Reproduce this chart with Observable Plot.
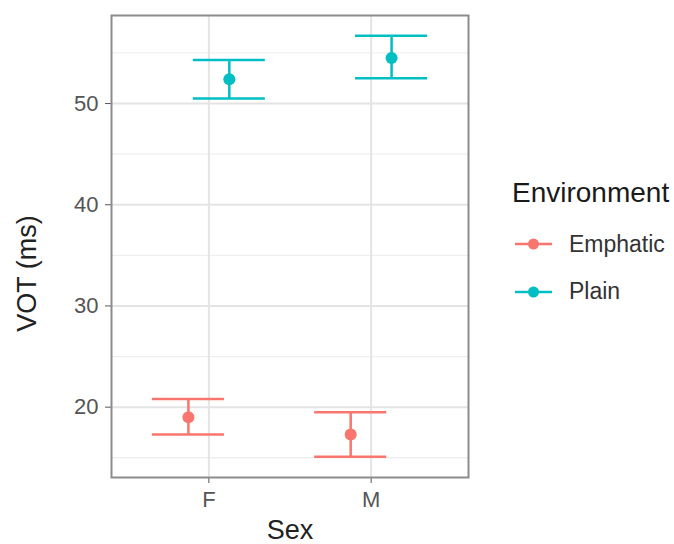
<!DOCTYPE html>
<html>
<head>
<meta charset="utf-8">
<script src="https://cdn.jsdelivr.net/npm/d3@7"></script>
<script src="https://cdn.jsdelivr.net/npm/@observablehq/plot@0.6"></script>
<style>
  html, body { margin: 0; padding: 0; background: #fff; }
  #wrap { position: relative; width: 674px; height: 544px; font-family: "Liberation Sans", Arial, sans-serif; }
  #legend { position: absolute; left: 512px; top: 176px; color: #1a1a1a; }
  #legend .ttl { font-size: 28px; line-height: 34px; height: 34px; white-space: nowrap; }
  #legend .items { margin-top: 10.6px; }
  #legend .item { display: flex; align-items: center; height: 47.4px; }
  #legend .item svg { display: block; margin-left: 1px; margin-right: 16px; }
  #legend .item span { font-size: 23px; color: #333; }
</style>
</head>
<body>
<div id="wrap"><div id="chart"></div><div id="legend"></div></div>
<script>
// ---- data ----
const sexes = ["F", "M"];
const environments = ["Emphatic", "Plain"];
const colors = ["#F8766D", "#00BFC4"];
const sex = ["F", "F", "M", "M"];
const environment = ["Emphatic", "Plain", "Emphatic", "Plain"];
const vot = [19.0, 52.4, 17.3, 54.5];
const lower = [17.3, 50.5, 15.1, 52.5];
const upper = [20.8, 54.3, 19.5, 56.7];
const yTicks = [20, 30, 40, 50];
const yMinor = [15, 25, 35, 45, 55];
const xTitle = "Sex";
const yTitle = "VOT (ms)";
const legendTitle = "Environment";

// ---- build table ----
const rows = sex.map((s, i) => ({sex: s, env: environment[i], vot: vot[i], lo: lower[i], hi: upper[i]}));
const dodge = 0.126, capHalf = 0.222;
const xpos = d => sexes.indexOf(d.sex) + 1 + (d.env === environments[0] ? -dodge : dodge);

const chart = Plot.plot({
  width: 480,
  height: 544,
  marginLeft: 111,
  marginRight: 12,
  marginTop: 15,
  marginBottom: 67,
  style: {fontFamily: '"Liberation Sans", Arial, sans-serif', fontSize: "22px", color: "#555", background: "white"},
  x: {type: "linear", domain: [0.4, 2.6], ticks: [1, 2], tickFormat: d => sexes[d - 1], tickSize: 6, tickPadding: 8, label: null},
  y: {domain: [13.05, 58.7], ticks: yTicks, tickSize: 6, tickPadding: 7, label: null},
  color: {domain: environments, range: colors},
  marks: [
    Plot.ruleY(yMinor, {stroke: "#efefef", strokeWidth: 1.3}),
    Plot.ruleY(yTicks, {stroke: "#e4e4e4", strokeWidth: 2}),
    Plot.ruleX([1, 2], {stroke: "#e4e4e4", strokeWidth: 2}),
    Plot.frame({stroke: "#8c8c8c", strokeWidth: 2}),
    Plot.ruleX(rows, {x: xpos, y1: "lo", y2: "hi", stroke: "env", strokeWidth: 2.5}),
    Plot.ruleY(rows, {y: "hi", x1: d => xpos(d) - capHalf, x2: d => xpos(d) + capHalf, stroke: "env", strokeWidth: 2.5}),
    Plot.ruleY(rows, {y: "lo", x1: d => xpos(d) - capHalf, x2: d => xpos(d) + capHalf, stroke: "env", strokeWidth: 2.5}),
    Plot.dot(rows, {x: xpos, y: "vot", fill: "env", r: 6}),
    Plot.text([xTitle], {frameAnchor: "bottom", dy: 53, fontSize: 27, fill: "#222", textAnchor: "middle", lineAnchor: "middle"}),
    Plot.text([yTitle], {frameAnchor: "left", dx: -84, dy: 27, rotate: -90, fontSize: 27, fill: "#222", textAnchor: "middle", lineAnchor: "middle"})
  ]
});
document.getElementById("chart").appendChild(chart);

// ---- legend ----
const leg = document.getElementById("legend");
const t = document.createElement("div");
t.className = "ttl";
t.textContent = legendTitle;
leg.appendChild(t);
const items = document.createElement("div");
items.className = "items";
environments.forEach((e, i) => {
  const it = document.createElement("div");
  it.className = "item";
  it.innerHTML = `<svg width="40" height="20"><line x1="2" x2="39" y1="10" y2="10" stroke="${colors[i]}" stroke-width="2.5"/><circle cx="20.5" cy="10" r="5.5" fill="${colors[i]}"/></svg><span>${e}</span>`;
  items.appendChild(it);
});
leg.appendChild(items);
</script>
</body>
</html>
